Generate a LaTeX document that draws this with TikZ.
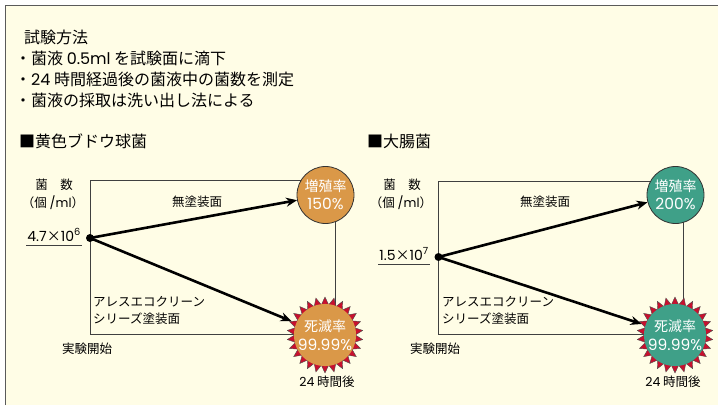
\documentclass[tikz,border=0pt]{standalone}
\usepackage{fontspec}
\setmainfont{Noto Sans CJK JP}
\newfontfamily\lf{Poppins}
\newfontfamily\jf{Noto Sans CJK JP}
\usetikzlibrary{arrows.meta,shapes.geometric}
\definecolor{bg}{HTML}{FFFDE6}
\definecolor{orng}{HTML}{DA9848}
\definecolor{tealc}{HTML}{3FA088}
\definecolor{redst}{HTML}{C8102E}
\definecolor{framec}{HTML}{5A5A5A}
\newcommand{\bignum}[1]{{\fontsize{15.5}{19}\selectfont\lf #1}}
\begin{document}
\begin{tikzpicture}[x=1pt,y=-1pt,
  txt/.style={inner sep=0pt, font=\fontsize{16}{18}\selectfont},
  hd/.style={inner sep=0pt, font=\fontsize{16}{18}\selectfont},
  lbl/.style={inner sep=0pt, font=\fontsize{12.5}{17}\selectfont},
  num/.style={inner sep=0pt, font=\fontsize{14}{17}\selectfont\lf},
  rate/.style={circle, draw=black!80, line width=0.8pt, minimum size=57pt, inner sep=0pt,
    text=white, font=\fontsize{14}{18}\selectfont, align=center},
  inrate/.style={circle, minimum size=54pt, inner sep=0pt,
    text=white, font=\fontsize{14}{19}\selectfont, align=center},
  burst/.style={star, star points=26, star point ratio=1.25, minimum size=76pt, inner sep=0pt,
    fill=redst, draw=black!70, line width=0.4pt},
  arr/.style={line width=2.6pt, -{Stealth[length=11pt,width=9pt]}},
  box/.style={draw=black!75, line width=0.8pt},
  uline/.style={draw=black!75, line width=0.8pt},
  dot/.style={circle, fill=black, minimum size=8pt, inner sep=0pt}]
\useasboundingbox (0,0) rectangle (718,405);
\fill[white] (0,0) rectangle (718,405);
\fill[bg] (5.5,5.5) rectangle (718,405);
\coordinate (f-bl) at (5.5,405);
\coordinate (f-tl) at (5.5,5.5);
\coordinate (f-tr) at (718,5.5);
\draw[framec, line width=1.6pt] (f-bl) -- (f-tl) -- (f-tr);

% header text
\node[txt,anchor=west] (t0) at (24,37) {試験方法};
\node[txt,anchor=west] (t1) at (15,58) {・菌液 {\lf 0.5ml} を試験面に滴下};
\node[txt,anchor=west] (t2) at (15,79) {・{\lf 24} 時間経過後の菌液中の菌数を測定};
\node[txt,anchor=west] (t3) at (15,100) {・菌液の採取は洗い出し法による};
\node[hd,anchor=west] (h1) at (19,141) {■黄色ブドウ球菌};
\node[hd,anchor=west] (h2) at (367,141) {■大腸菌};

% ---------- left diagram ----------
\coordinate (a-tl) at (90,180.5);
\coordinate (a-tr) at (335,180.5);
\coordinate (a-br) at (335,334);
\coordinate (a-bl) at (90,334);
\draw[box] (a-tl) -- (a-tr) -- (a-br) -- (a-bl) -- cycle;
\node[rate, fill=orng] (a-up) at (325.5,195) {増殖率\\\bignum{150\%}};
\node[burst] (a-st) at (325,335) {};
\node[inrate, fill=orng] (a-dn) at (325,335) {死滅率\\\bignum{99.99\%}};
\node[dot] (a-dot) at (90,238) {};
\draw[arr] (a-dot.center) -- (a-up);
\draw[arr] (a-dot.center) -- (a-st);
\node[lbl] (a-n1) at (54,185) {菌　数};
\node[lbl] (a-n2) at (53,203) {（個 {\lf /ml}）};
\node[num, anchor=base east] (a-v) at (81,241) {4.7{\jf ×}10\textsuperscript{6}};
\draw[uline] ([yshift=-4pt,xshift=-1pt]a-v.base west) -- ([yshift=-4pt,xshift=1pt]a-v.base east);
\node[lbl] (a-m) at (197,202) {無塗装面};
\node[lbl, anchor=west, align=left] (a-p) at (93,310.5) {アレスエコクリーン\\シリーズ塗装面};
\node[lbl] (a-s) at (87,349) {実験開始};
\node[lbl] (a-e) at (327,382) {{\lf 24} 時間後};

% ---------- right diagram ----------
\coordinate (b-tl) at (438,181);
\coordinate (b-tr) at (683,181);
\coordinate (b-br) at (683,334);
\coordinate (b-bl) at (438,334);
\draw[box] (b-tl) -- (b-tr) -- (b-br) -- (b-bl) -- cycle;
\node[rate, fill=tealc] (b-up) at (675.5,195) {増殖率\\\bignum{200\%}};
\node[burst] (b-st) at (675,335) {};
\node[inrate, fill=tealc] (b-dn) at (675,335) {死滅率\\\bignum{99.99\%}};
\node[dot] (b-dot) at (438.5,257) {};
\draw[arr] (b-dot.center) -- (b-up);
\draw[arr] (b-dot.center) -- (b-st);
\node[lbl] (b-n1) at (402,185) {菌　数};
\node[lbl] (b-n2) at (401,203) {（個 {\lf /ml}）};
\node[num, anchor=base east] (b-v) at (429,260) {1.5{\jf ×}10\textsuperscript{7}};
\draw[uline] ([yshift=-4pt,xshift=-1pt]b-v.base west) -- ([yshift=-4pt,xshift=1pt]b-v.base east);
\node[lbl] (b-m) at (545,202) {無塗装面};
\node[lbl, anchor=west, align=left] (b-p) at (442,310.5) {アレスエコクリーン\\シリーズ塗装面};
\node[lbl] (b-s) at (435,349) {実験開始};
\node[lbl] (b-e) at (673,382) {{\lf 24} 時間後};
\end{tikzpicture}
\end{document}
